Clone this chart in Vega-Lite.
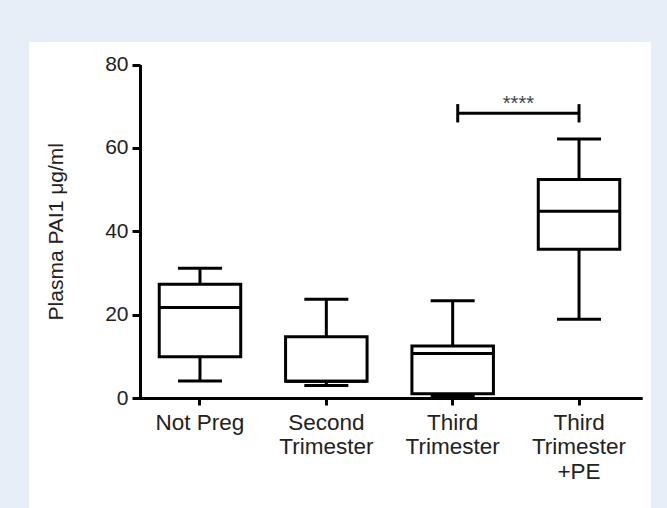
{
  "$schema": "https://vega.github.io/schema/vega-lite/v6.json",
  "width": 622,
  "height": 466,
  "autosize": {"type": "none"},
  "padding": {"left": 29, "top": 42, "right": 16, "bottom": 0},
  "background": "#e7eef8",
  "config": {
    "view": {"fill": "white", "stroke": null},
    "font": "Liberation Sans",
    "axis": {"grid": false, "domainColor": "black", "tickColor": "black", "domainWidth": 3, "tickWidth": 3, "labelColor": "#222", "titleColor": "#222", "labelFont": "Liberation Sans", "titleFont": "Liberation Sans"}
  },
  "datasets": {
    "boxes": [
      {"group": "Not Preg", "min": 4.1, "q1": 9.9, "med": 21.7, "q3": 27.3, "max": 31.1},
      {"group": "Second Trimester", "min": 3.0, "q1": 4.0, "med": 4.0, "q3": 14.7, "max": 23.7},
      {"group": "Third Trimester", "min": 0.4, "q1": 1.0, "med": 10.7, "q3": 12.5, "max": 23.3},
      {"group": "Third Trimester +PE", "min": 18.9, "q1": 35.7, "med": 44.8, "q3": 52.4, "max": 62.1}
    ],
    "bracket": [
      {"a": "Third Trimester", "b": "Third Trimester +PE", "y": 68.3, "lo": 66.1, "hi": 70.5}
    ],
    "stars": [
      {"group": "Third Trimester +PE", "y": 69.1, "label": "****"}
    ]
  },
  "layer": [
    {
      "data": {"name": "boxes"},
      "mark": {"type": "rule", "color": "black", "strokeWidth": 3},
      "encoding": {
        "x": {
          "field": "group", "type": "nominal", "sort": null,
          "scale": {"type": "band", "range": [107.8, 613.2], "paddingInner": 0, "paddingOuter": 0},
          "axis": {
            "title": null, "orient": "bottom", "offset": -110, "tickSize": 7, "labelAngle": 0,
            "labelFontSize": 22.5, "labelPadding": 6, "labelLineHeight": 24.5,
            "labelExpr": "datum.label == 'Not Preg' ? datum.label : split(datum.label, ' ')"
          }
        },
        "y": {
          "field": "min", "type": "quantitative",
          "scale": {"domain": [0, 80], "range": [356, 22.5], "nice": false, "zero": true},
          "axis": {
            "title": "Plasma PAI1 μg/ml", "offset": -111, "values": [0, 20, 40, 60, 80],
            "tickSize": 8, "labelFontSize": 21, "labelPadding": 4,
            "titleFontSize": 21, "titleFontWeight": "normal", "titlePadding": 38
          }
        },
        "y2": {"field": "max"}
      }
    },
    {
      "data": {"name": "boxes"},
      "mark": {"type": "bar", "fill": "white", "stroke": "black", "strokeWidth": 3, "width": {"band": 0.645}},
      "encoding": {
        "x": {"field": "group", "type": "nominal", "sort": null},
        "y": {"field": "q1", "type": "quantitative"},
        "y2": {"field": "q3"}
      }
    },
    {
      "data": {"name": "boxes"},
      "mark": {"type": "tick", "color": "black", "size": 81, "thickness": 3, "opacity": 1},
      "encoding": {
        "x": {"field": "group", "type": "nominal", "sort": null},
        "y": {"field": "med", "type": "quantitative"}
      }
    },
    {
      "data": {"name": "boxes"},
      "mark": {"type": "tick", "color": "black", "size": 44, "thickness": 3, "opacity": 1},
      "encoding": {
        "x": {"field": "group", "type": "nominal", "sort": null},
        "y": {"field": "min", "type": "quantitative"}
      }
    },
    {
      "data": {"name": "boxes"},
      "mark": {"type": "tick", "color": "black", "size": 44, "thickness": 3, "opacity": 1},
      "encoding": {
        "x": {"field": "group", "type": "nominal", "sort": null},
        "y": {"field": "max", "type": "quantitative"}
      }
    },
    {
      "data": {"name": "bracket"},
      "mark": {"type": "rule", "color": "black", "strokeWidth": 3},
      "encoding": {
        "x": {"field": "a", "type": "nominal", "bandPosition": 0.54},
        "x2": {"field": "b", "bandPosition": 0.5},
        "y": {"field": "y", "type": "quantitative"}
      }
    },
    {
      "data": {"name": "bracket"},
      "mark": {"type": "rule", "color": "black", "strokeWidth": 3},
      "encoding": {
        "x": {"field": "a", "type": "nominal", "bandPosition": 0.54},
        "y": {"field": "lo", "type": "quantitative"},
        "y2": {"field": "hi"}
      }
    },
    {
      "data": {"name": "bracket"},
      "mark": {"type": "rule", "color": "black", "strokeWidth": 3},
      "encoding": {
        "x": {"field": "b", "type": "nominal", "bandPosition": 0.5},
        "y": {"field": "lo", "type": "quantitative"},
        "y2": {"field": "hi"}
      }
    },
    {
      "data": {"name": "stars"},
      "mark": {"type": "text", "fontSize": 20, "color": "#444", "baseline": "alphabetic", "align": "center"},
      "encoding": {
        "x": {"field": "group", "type": "nominal", "bandPosition": 0.02},
        "y": {"field": "y", "type": "quantitative"},
        "text": {"field": "label"}
      }
    }
  ]
}
